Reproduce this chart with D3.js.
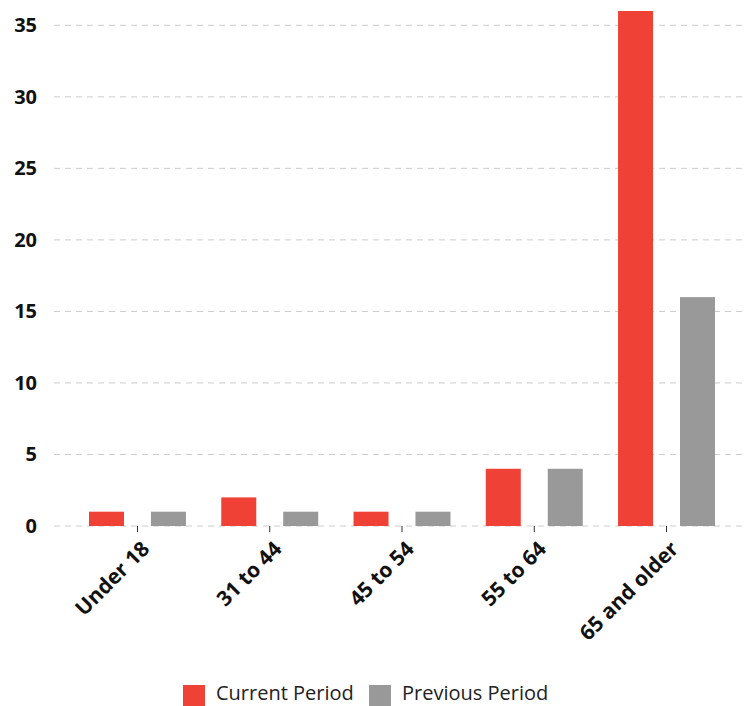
<!DOCTYPE html>
<html>
<head>
<meta charset="utf-8">
<script src="https://cdn.jsdelivr.net/npm/d3@7"></script>
<style>
  body { margin: 0; background: #fff; }
  svg { display: block; font-family: "Open Sans", sans-serif; }
</style>
</head>
<body>
<svg id="chart" width="746" height="706"></svg>
<script>
// data
const categories = ["Under 18", "31 to 44", "45 to 54", "55 to 64", "65 and older"];
const seriesNames = ["Current Period", "Previous Period"];
const currentValues = [1, 2, 1, 4, 36];
const previousValues = [1, 1, 1, 4, 16];
const yTicks = [0, 5, 10, 15, 20, 25, 30, 35];
const colors = ["#ef4135", "#999999"];

const svg = d3.select("#chart");

const plot = { left: 54, right: 746, top: 11, bottom: 526 };

const rows = categories.map((c, i) => ({
  category: c,
  values: [currentValues[i], previousValues[i]]
}));

// scales
const x0 = d3.scaleBand()
  .domain(categories)
  .range([plot.left, plot.right + 4])
  .paddingInner(0.267)
  .paddingOuter(0.2646);

const x1 = d3.scaleBand()
  .domain(seriesNames)
  .range([0, x0.bandwidth()])
  .paddingInner(0.435);

const y = d3.scaleLinear().domain([0, 36]).range([plot.bottom, plot.top]);

// grid lines
svg.append("g")
  .selectAll("line")
  .data(yTicks)
  .join("line")
  .attr("x1", plot.left)
  .attr("x2", plot.right)
  .attr("y1", d => y(d))
  .attr("y2", d => y(d))
  .attr("stroke", "#cccccc")
  .attr("stroke-width", 1)
  .attr("stroke-dasharray", "6,5");

// y labels
svg.append("g")
  .selectAll("text")
  .data(yTicks)
  .join("text")
  .attr("x", 37)
  .attr("y", d => y(d))
  .attr("dy", "0.35em")
  .attr("text-anchor", "end")
  .attr("font-size", 20)
  .attr("font-weight", "bold")
  .attr("fill", "#111")
  .text(d => d);

// bars
const groups = svg.append("g")
  .selectAll("g")
  .data(rows)
  .join("g")
  .attr("transform", d => `translate(${x0(d.category)},0)`);

groups.selectAll("rect")
  .data(d => d.values.map((v, i) => ({ key: seriesNames[i], value: v, i })))
  .join("rect")
  .attr("x", d => x1(d.key))
  .attr("width", x1.bandwidth())
  .attr("y", d => y(d.value))
  .attr("height", d => y(0) - y(d.value))
  .attr("fill", d => colors[d.i]);

// x axis
const xAxis = svg.append("g")
  .attr("transform", `translate(0,${plot.bottom})`)
  .call(d3.axisBottom(x0).tickSize(6).tickPadding(4));

xAxis.select(".domain").remove();
xAxis.selectAll(".tick line").attr("stroke", "#333");
xAxis.selectAll(".tick text")
  .attr("font-family", "Open Sans, sans-serif")
  .attr("font-size", 21)
  .attr("font-weight", "bold")
  .attr("fill", "#111")
  .attr("text-anchor", "end")
  .attr("transform", "translate(8,19) rotate(-45)")
  .attr("dy", "0.35em")
  .attr("y", 0)
  .attr("x", 0);

// legend
const legend = svg.append("g");
const legendItems = [
  { name: seriesNames[0], color: colors[0], x: 183 },
  { name: seriesNames[1], color: colors[1], x: 369 }
];
legendItems.forEach(d => {
  legend.append("rect")
    .attr("x", d.x)
    .attr("y", 685)
    .attr("width", 22)
    .attr("height", 21)
    .attr("fill", d.color);
  legend.append("text")
    .attr("x", d.x + 33)
    .attr("y", 698)
    .attr("dy", "0.1em")
    .attr("font-size", 20)
    .attr("fill", "#222")
    .text(d.name);
});
</script>
</body>
</html>
